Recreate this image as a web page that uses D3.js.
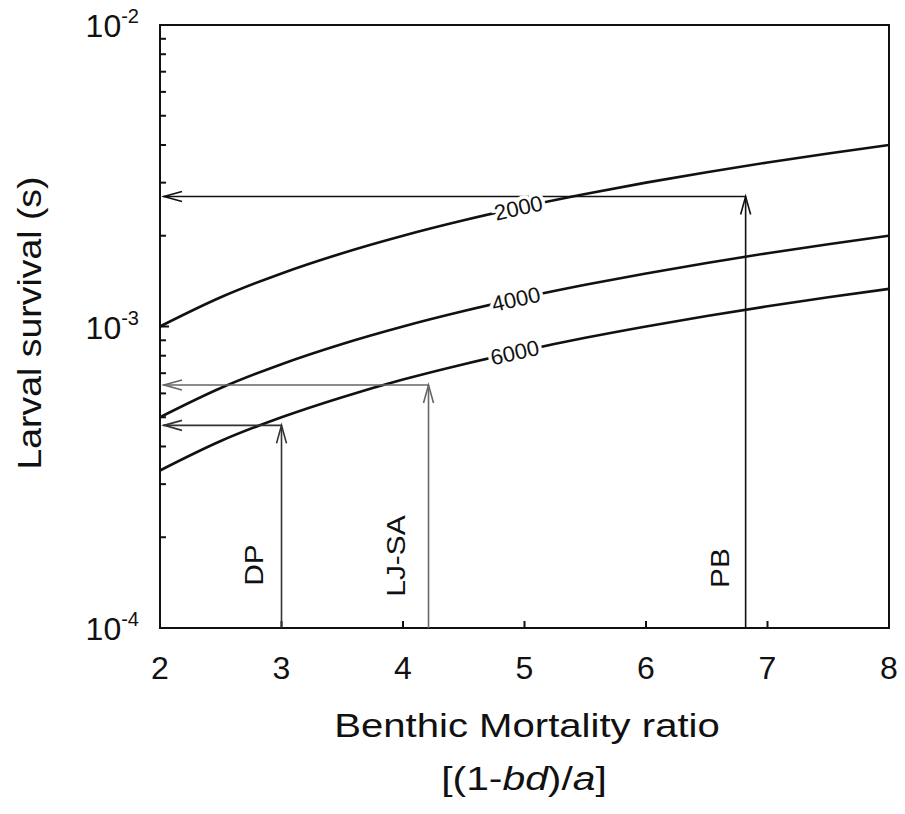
<!DOCTYPE html>
<html>
<head>
<meta charset="utf-8">
<script src="https://cdn.jsdelivr.net/npm/d3@7"></script>
<style>
  html, body { margin: 0; padding: 0; background: #fff; }
  text { font-family: "Liberation Sans", Arial, Helvetica, sans-serif; fill: #111; }
</style>
</head>
<body>
<svg id="chart" width="905" height="814"></svg>
<script>
// ---- Data ----
const ratioValues = [2, 2.5, 3, 3.5, 4, 4.5, 5, 5.5, 6, 6.5, 7, 7.5, 8];
const survival2000 = [1.0e-3, 1.25e-3, 1.5e-3, 1.75e-3, 2.0e-3, 2.25e-3, 2.5e-3, 2.75e-3, 3.0e-3, 3.25e-3, 3.5e-3, 3.75e-3, 4.0e-3];
const survival4000 = [5.0e-4, 6.25e-4, 7.5e-4, 8.75e-4, 1.0e-3, 1.125e-3, 1.25e-3, 1.375e-3, 1.5e-3, 1.625e-3, 1.75e-3, 1.875e-3, 2.0e-3];
const survival6000 = [3.33e-4, 4.17e-4, 5.0e-4, 5.83e-4, 6.67e-4, 7.5e-4, 8.33e-4, 9.17e-4, 1.0e-3, 1.083e-3, 1.167e-3, 1.25e-3, 1.333e-3];
const curveNames = ["2000", "4000", "6000"];
const curveLabelX = [4.95, 4.93, 4.92];

const siteNames = ["DP", "LJ-SA", "PB"];
const siteRatio = [3.0, 4.21, 6.82];
const siteSurvival = [4.7e-4, 6.4e-4, 2.7e-3];
const siteColors = ["#333", "#666", "#111"];

const xTicks = [2, 3, 4, 5, 6, 7, 8];
const yMajorTicks = [1e-4, 1e-3, 1e-2];
const yTickExps = ["-4", "-3", "-2"];

// ---- Layout ----
const svg = d3.select("#chart");
const mLeft = 160, mRight = 889, mTop = 25, mBottom = 628;

const x = d3.scaleLinear().domain([2, 8]).range([mLeft, mRight]);
const y = d3.scaleLog().domain([1e-4, 1e-2]).range([mBottom, mTop]);

// Frame
svg.append("rect")
  .attr("x", mLeft).attr("y", mTop)
  .attr("width", mRight - mLeft).attr("height", mBottom - mTop)
  .attr("fill", "none").attr("stroke", "#111").attr("stroke-width", 2);

// Y minor/major ticks (inward on left axis)
const yAllTicks = [];
for (let e = -4; e < -2; e++) {
  for (let m = 1; m <= 9; m++) yAllTicks.push(m * Math.pow(10, e));
}
yAllTicks.push(1e-2);
svg.append("g").selectAll("line").data(yAllTicks).join("line")
  .attr("x1", mLeft).attr("x2", d => mLeft + (yMajorTicks.some(t => Math.abs(t - d) / d < 1e-6) ? 9 : 6))
  .attr("y1", d => y(d)).attr("y2", d => y(d))
  .attr("stroke", "#111").attr("stroke-width", 2);

// X ticks (inward on bottom axis)
svg.append("g").selectAll("line").data(xTicks.slice(1, -1)).join("line")
  .attr("x1", d => x(d)).attr("x2", d => x(d))
  .attr("y1", mBottom).attr("y2", mBottom - 7)
  .attr("stroke", "#111").attr("stroke-width", 2);

// X tick labels
svg.append("g").selectAll("text").data(xTicks).join("text")
  .attr("x", d => x(d)).attr("y", 679)
  .attr("text-anchor", "middle")
  .attr("font-size", 32)
  .text(d => d);

// Y tick labels 10^n
const yl = svg.append("g").selectAll("text").data(yMajorTicks).join("text")
  .attr("x", 139).attr("y", d => y(d) + 12)
  .attr("text-anchor", "end")
  .attr("font-size", 32);
yl.append("tspan").text("10");
yl.append("tspan").attr("font-size", 20).attr("dy", -14).text((d, i) => yTickExps[i]);

// Axis titles
svg.append("text")
  .attr("transform", "translate(41,323) rotate(-90) scale(1.1,1)")
  .attr("text-anchor", "middle").attr("font-size", 34)
  .text("Larval survival (s)");

svg.append("text")
  .attr("transform", "translate(527,737) scale(1.18,1)")
  .attr("text-anchor", "middle").attr("font-size", 34)
  .text("Benthic Mortality ratio");

const sub = svg.append("text")
  .attr("transform", "translate(524,790) scale(1.2,1)")
  .attr("text-anchor", "middle").attr("font-size", 34);
sub.append("tspan").text("[(1-");
sub.append("tspan").attr("font-style", "italic").text("bd");
sub.append("tspan").text(")/");
sub.append("tspan").attr("font-style", "italic").text("a");
sub.append("tspan").text("]");

// Curves
const series = [survival2000, survival4000, survival6000];
const line = d3.line()
  .x(d => x(d[0])).y(d => y(d[1]))
  .curve(d3.curveMonotoneX);

series.forEach(vals => {
  svg.append("path")
    .datum(ratioValues.map((r, i) => [r, vals[i]]))
    .attr("d", line)
    .attr("fill", "none").attr("stroke", "#111").attr("stroke-width", 2.6);
});

// Arrows
function arrowHead(g, tipX, tipY, dir, color) {
  const L = 18, W = 5;
  let p;
  if (dir === "up") p = [[tipX - W, tipY + L], [tipX, tipY], [tipX + W, tipY + L]];
  else p = [[tipX + L, tipY - W], [tipX, tipY], [tipX + L, tipY + W]];
  g.append("path")
    .attr("d", d3.line()(p))
    .attr("fill", "none").attr("stroke", color).attr("stroke-width", 1.6);
}

siteNames.forEach((name, i) => {
  const g = svg.append("g");
  const px = x(siteRatio[i]), py = y(siteSurvival[i]);
  const c = siteColors[i];
  g.append("line").attr("x1", px).attr("x2", px).attr("y1", mBottom).attr("y2", py)
    .attr("stroke", c).attr("stroke-width", 1.6);
  g.append("line").attr("x1", px).attr("x2", mLeft + 3).attr("y1", py).attr("y2", py)
    .attr("stroke", c).attr("stroke-width", 1.6);
  arrowHead(g, px, py, "up", c);
  arrowHead(g, mLeft + 4, py, "left", c);
});

// Site labels (rotated)
const siteLabelY = [565, 556, 568];
const siteLabelOffset = [-19, -24, -17];
siteNames.forEach((name, i) => {
  svg.append("text")
    .attr("transform", `translate(${x(siteRatio[i]) + siteLabelOffset[i]},${siteLabelY[i]}) rotate(-90) scale(1.15,1)`)
    .attr("text-anchor", "middle")
    .attr("font-size", 26)
    .attr("fill", "#333")
    .text(name);
});

// Curve labels with white halo to break the line
series.forEach((vals, i) => {
  const lx = curveLabelX[i];
  const j = d3.bisectRight(ratioValues, lx) - 1;
  const t = (lx - ratioValues[j]) / (ratioValues[j + 1] - ratioValues[j]);
  const sv = vals[j] + t * (vals[j + 1] - vals[j]);
  const ang = Math.atan2(y(vals[j + 1]) - y(vals[j]), x(ratioValues[j + 1]) - x(ratioValues[j])) * 180 / Math.PI;
  svg.append("text")
    .attr("transform", `translate(${x(lx)},${y(sv)}) rotate(${ang})`)
    .attr("text-anchor", "middle")
    .attr("dy", "0.35em")
    .attr("font-size", 22)
    .attr("stroke", "#fff").attr("stroke-width", 7)
    .attr("paint-order", "stroke")
    .text(curveNames[i]);
});
</script>
</body>
</html>
